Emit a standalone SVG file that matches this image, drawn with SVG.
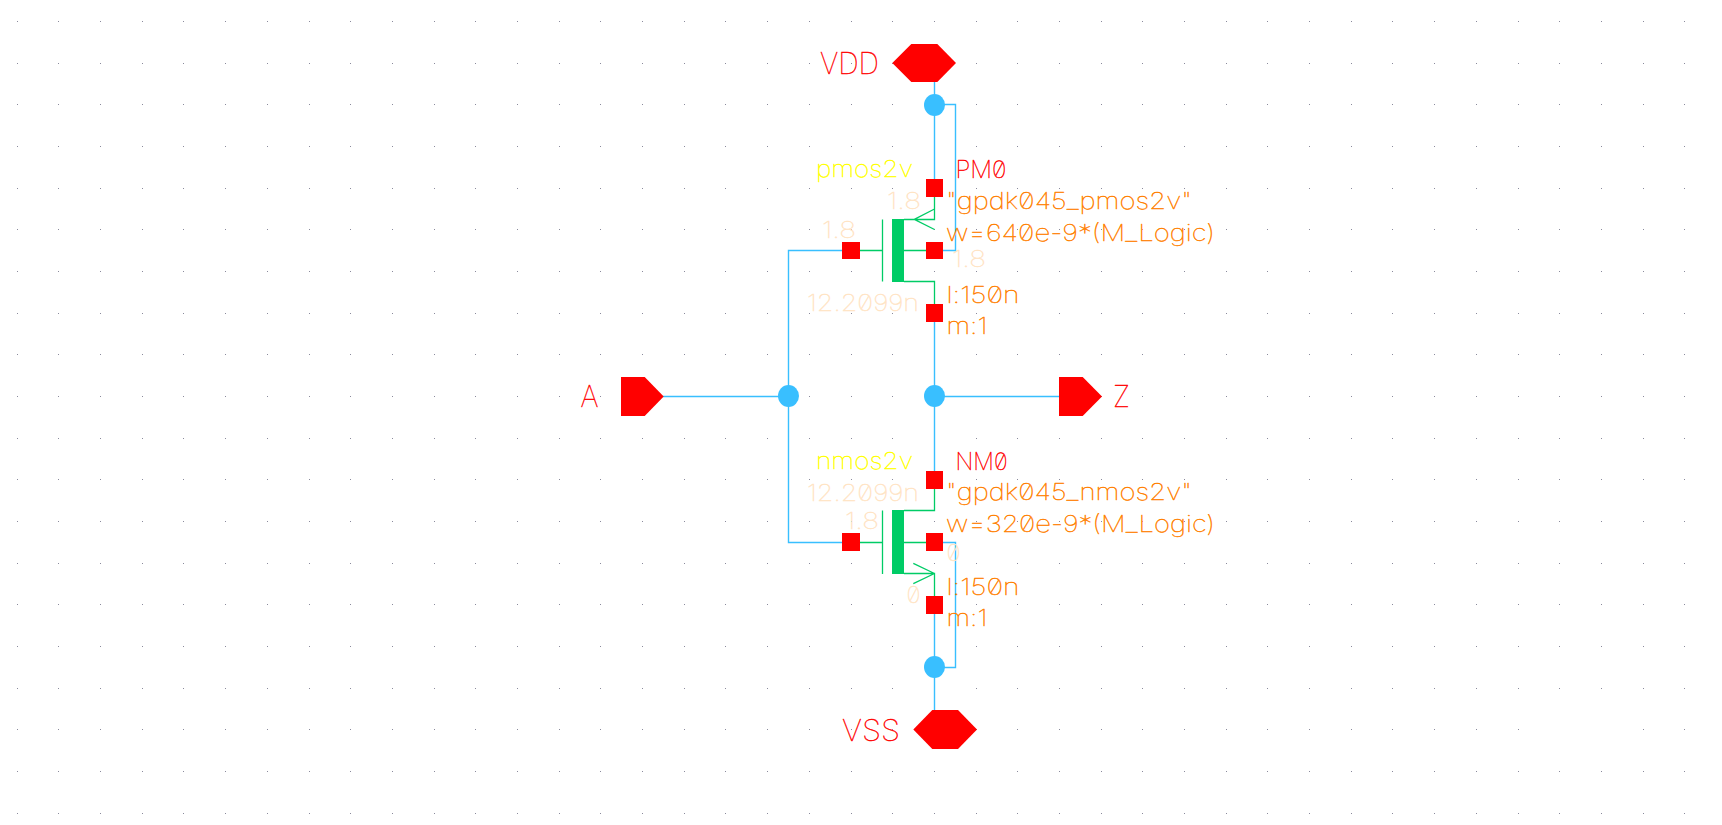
<svg xmlns="http://www.w3.org/2000/svg" width="1722" height="825" viewBox="0 0 1722 825">
<style>
text{font-family:"Inter","Liberation Sans",sans-serif;font-weight:100;font-feature-settings:"zero" 1;stroke-width:.4;stroke-linejoin:round}
.wire{fill:none;stroke:#39bfff;stroke-width:1.4}
.dev{fill:none;stroke:#00cc66;stroke-width:1.3}
.red{fill:#ff0000}
.blue{fill:#39bfff}
.green{fill:#00cc66}
.lbl{fill:#ff0000;stroke:#ff0000;font-size:30px}
.nm{fill:#ff0000;stroke:#ff0000;font-size:24px}
.cell{fill:#ffff00;stroke:#ffff00;font-size:23px}
.par{fill:#ff8000;stroke:#ff8000;font-size:23px}
.op{fill:#ffe4c4;stroke:#ffe4c4;font-size:23px}
.grid{fill:#8a8a9c}
</style>
<defs>
<path id="row" class="grid" d="M17 0h1v1h-1zM58 0h1v1h-1zM100 0h1v1h-1zM142 0h1v1h-1zM183 0h1v1h-1zM225 0h1v1h-1zM267 0h1v1h-1zM309 0h1v1h-1zM350 0h1v1h-1zM392 0h1v1h-1zM434 0h1v1h-1zM475 0h1v1h-1zM517 0h1v1h-1zM559 0h1v1h-1zM600 0h1v1h-1zM642 0h1v1h-1zM684 0h1v1h-1zM725 0h1v1h-1zM767 0h1v1h-1zM809 0h1v1h-1zM851 0h1v1h-1zM892 0h1v1h-1zM934 0h1v1h-1zM976 0h1v1h-1zM1017 0h1v1h-1zM1059 0h1v1h-1zM1101 0h1v1h-1zM1142 0h1v1h-1zM1184 0h1v1h-1zM1226 0h1v1h-1zM1267 0h1v1h-1zM1309 0h1v1h-1zM1351 0h1v1h-1zM1392 0h1v1h-1zM1434 0h1v1h-1zM1476 0h1v1h-1zM1518 0h1v1h-1zM1559 0h1v1h-1zM1601 0h1v1h-1zM1643 0h1v1h-1zM1684 0h1v1h-1z"/>
</defs>
<rect width="1722" height="825" fill="#ffffff"/>
<g id="grid">
<use href="#row" y="21"/><use href="#row" y="63"/><use href="#row" y="104"/><use href="#row" y="146"/><use href="#row" y="188"/><use href="#row" y="229"/><use href="#row" y="271"/><use href="#row" y="313"/><use href="#row" y="354"/><use href="#row" y="396"/><use href="#row" y="438"/><use href="#row" y="479"/><use href="#row" y="521"/><use href="#row" y="563"/><use href="#row" y="604"/><use href="#row" y="646"/><use href="#row" y="688"/>
<path class="grid" transform="translate(0 729)" d="M17 0h1v1h-1zM58 0h1v1h-1zM100 0h1v1h-1zM142 0h1v1h-1zM183 0h1v1h-1zM225 0h1v1h-1zM267 0h1v1h-1zM309 0h1v1h-1zM350 0h1v1h-1zM392 0h1v1h-1zM434 0h1v1h-1zM475 0h1v1h-1zM517 0h1v1h-1zM559 0h1v1h-1zM600 0h1v1h-1zM642 0h1v1h-1zM684 0h1v1h-1zM725 0h1v1h-1zM767 0h1v1h-1zM809 0h1v1h-1zM851 0h1v1h-1zM892 0h1v1h-1zM934 0h1v1h-1zM976 0h1v1h-1zM1017 0h1v1h-1zM1059 0h1v1h-1zM1101 0h1v1h-1zM1142 0h1v1h-1zM1184 0h1v1h-1zM1226 0h1v1h-1zM1267 0h1v1h-1zM1309 0h1v1h-1zM1351 0h1v1h-1zM1392 0h1v1h-1zM1434 0h1v1h-1zM1476 0h1v1h-1zM1518 0h1v1h-1zM1643 0h1v1h-1zM1684 0h1v1h-1z"/>
<use href="#row" y="771"/><use href="#row" y="813"/>
</g>
<g id="connectors">
<path class="wire" d="M934.5 82V179M934.5 104.5H955.5V250.5H943"/>
<path class="wire" d="M934.5 322V471"/>
<path class="wire" d="M934.5 614V710"/>
<path class="wire" d="M943 542.5H955.5V667.5H934.5"/>
<path class="wire" d="M842 250.5H788.5V542.5H842"/>
<path class="wire" d="M663 396.5H788.5"/>
<path class="wire" d="M934.5 396.5H1059"/>
</g>
<g id="junctions">
<ellipse class="blue" cx="934.5" cy="105" rx="10.5" ry="11"/>
<ellipse class="blue" cx="934.5" cy="396" rx="10.5" ry="11"/>
<ellipse class="blue" cx="788.5" cy="396" rx="10.5" ry="11"/>
<ellipse class="blue" cx="934.5" cy="667" rx="10.5" ry="11"/>
</g>
<g id="pin-VDD">
<polygon class="red" points="892.3,63 911.3,44 937.3,44 956,63 937.3,82 911.3,82"/>
<text class="lbl" x="820" y="74" textLength="59" lengthAdjust="spacingAndGlyphs">VDD</text>
</g>
<g id="pin-VSS">
<polygon class="red" points="913.3,729.5 932.3,710 958,710 977,729.5 958,749 932.3,749"/>
<text class="lbl" x="842" y="741" textLength="58" lengthAdjust="spacingAndGlyphs">VSS</text>
</g>
<g id="pin-A">
<polygon class="red" points="621,377 644.7,377 663.7,396.5 644.7,416 621,416"/>
<text class="lbl" x="580.5" y="407" textLength="18" lengthAdjust="spacingAndGlyphs">A</text>
</g>
<g id="pin-Z">
<polygon class="red" points="1059,377 1082.7,377 1102,396.5 1082.7,416 1059,416"/>
<text class="lbl" x="1113" y="407" textLength="17" lengthAdjust="spacingAndGlyphs">Z</text>
</g>
<g id="PM0">
<path class="dev" d="M860 250.5H882.5M882.5 219.5V281.5M904 250.5H926M934.5 197V219.5H904M914.3 219.3L934.5 209M914.3 219.3L934.5 229.5M904 281.5H934.5V304"/>
<rect class="green" x="892" y="219" width="12" height="63"/>
<rect class="red" x="926" y="179" width="17" height="18"/>
<rect class="red" x="842" y="242" width="18" height="17"/>
<rect class="red" x="926" y="242" width="17" height="17"/>
<rect class="red" x="926" y="304" width="17" height="18"/>
<text class="cell" x="816" y="177" textLength="97" lengthAdjust="spacingAndGlyphs">pmos2v</text>
<text class="nm" x="955.5" y="177.5" textLength="51" lengthAdjust="spacingAndGlyphs">PM0</text>
<text class="par" x="946" y="209" textLength="246" lengthAdjust="spacingAndGlyphs">"gpdk045_pmos2v"</text>
<text class="par" x="946" y="240.5" textLength="269" lengthAdjust="spacingAndGlyphs">w=640e-9*(M_Logic)</text>
<text class="op" x="887" y="209" textLength="34" lengthAdjust="spacingAndGlyphs">1.8</text>
<text class="op" x="822" y="238" textLength="34" lengthAdjust="spacingAndGlyphs">1.8</text>
<text class="op" x="952" y="267" textLength="34" lengthAdjust="spacingAndGlyphs">1.8</text>
<text class="op" x="807" y="311" textLength="112" lengthAdjust="spacingAndGlyphs">12.2099n</text>
<text class="par" x="946.5" y="303" textLength="73" lengthAdjust="spacingAndGlyphs">l:150n</text>
<text class="par" x="946.5" y="333.5" textLength="41" lengthAdjust="spacingAndGlyphs">m:1</text>
</g>
<g id="NM0">
<path class="dev" d="M860 542.5H882.5M882.5 510.5V574M904 542.5H926M934.5 489V510.5H904M904 573.5H934.5V596M934.5 573.5L913.3 563.3M934.5 573.5L913.3 583.7"/>
<rect class="green" x="892" y="510" width="12" height="64"/>
<rect class="red" x="926" y="471" width="17" height="18"/>
<rect class="red" x="842" y="533" width="18" height="18"/>
<rect class="red" x="926" y="533" width="17" height="18"/>
<rect class="red" x="926" y="596" width="17" height="18"/>
<text class="cell" x="816" y="469" textLength="97" lengthAdjust="spacingAndGlyphs">nmos2v</text>
<text class="nm" x="955.5" y="470" textLength="52" lengthAdjust="spacingAndGlyphs">NM0</text>
<text class="par" x="946" y="500" textLength="246" lengthAdjust="spacingAndGlyphs">"gpdk045_nmos2v"</text>
<text class="par" x="946" y="531.5" textLength="269" lengthAdjust="spacingAndGlyphs">w=320e-9*(M_Logic)</text>
<text class="op" x="807" y="500.5" textLength="112" lengthAdjust="spacingAndGlyphs">12.2099n</text>
<text class="op" x="845" y="529" textLength="34" lengthAdjust="spacingAndGlyphs">1.8</text>
<text class="op" x="946.5" y="561" textLength="14" lengthAdjust="spacingAndGlyphs">0</text>
<text class="op" x="906.5" y="603" textLength="14" lengthAdjust="spacingAndGlyphs">0</text>
<text class="par" x="946.5" y="595" textLength="73" lengthAdjust="spacingAndGlyphs">l:150n</text>
<text class="par" x="946.5" y="625.5" textLength="41" lengthAdjust="spacingAndGlyphs">m:1</text>
</g>
</svg>
